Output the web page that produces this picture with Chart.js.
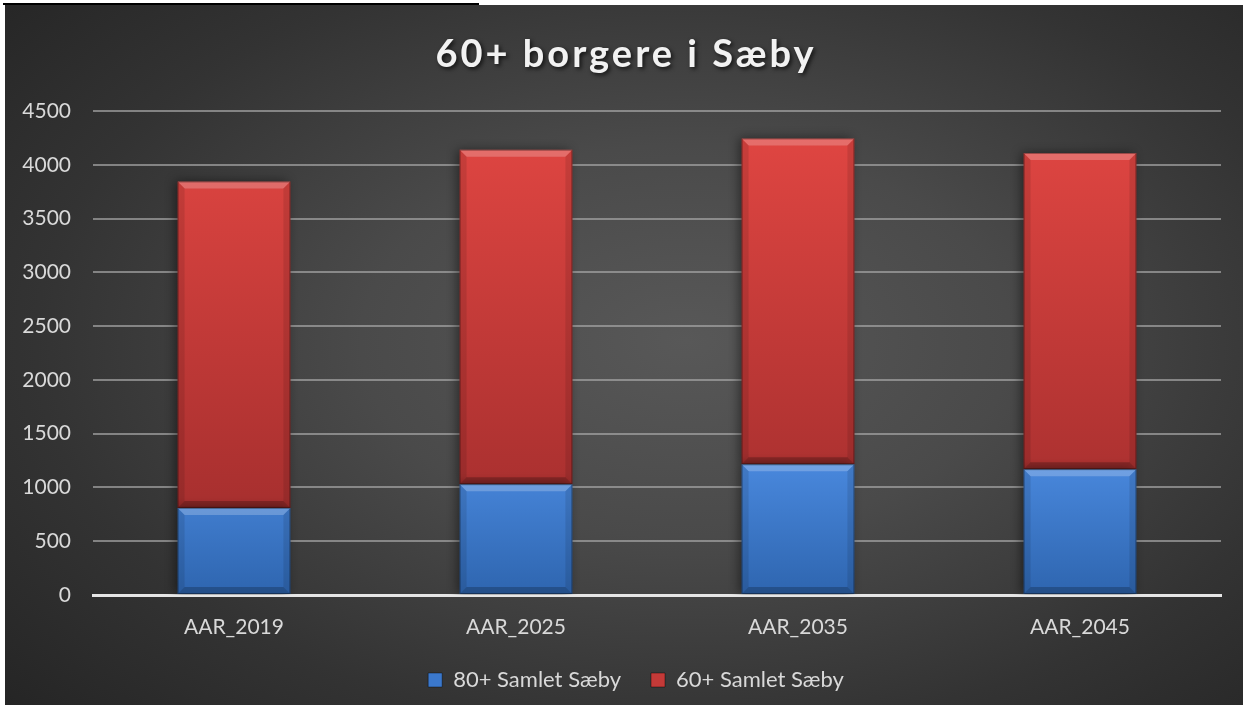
<!DOCTYPE html>
<html>
<head>
<meta charset="utf-8">
<script src="https://cdn.jsdelivr.net/npm/chart.js@4/dist/chart.umd.min.js"></script>
<style>
  body { margin: 0; background: #fff; width: 1249px; height: 713px; overflow: hidden; position: relative; }
  #topline { position: absolute; left: 3px; top: 3px; width: 476px; height: 2px; background: #000; }
  #wrap {
    position: absolute; left: 5px; top: 5px; width: 1238px; height: 700px;
    background: radial-gradient(ellipse 75% 80% at 55% 48%, #585858 0%, #4a4a4a 35%, #333 70%, #242424 100%);
  }
</style>
</head>
<body>
<div id="topline"></div>
<div id="wrap"><canvas id="c" width="1238" height="700"></canvas></div>
<script>
// data
const categories = ['AAR_2019', 'AAR_2025', 'AAR_2035', 'AAR_2045'];
const seriesNames = ['80+ Samlet Sæby', '60+ Samlet Sæby'];
const over80 = [810, 1030, 1215, 1170];
const over60 = [3035, 3110, 3030, 2940];
const yTicks = [0, 500, 1000, 1500, 2000, 2500, 3000, 3500, 4000, 4500];
const titleText = '60+ borgere i Sæby';

const legendColors = ['#3b78cc', '#c43a38'];
const textColor = '#d9d9d9';
const font = 'Lato, "Open Sans", sans-serif';

// vertical gradient over chart area
function vgrad(stops, fallback) {
  return ctx => {
    const chart = ctx.chart;
    const a = chart.chartArea;
    if (!a) return fallback;
    const g = chart.ctx.createLinearGradient(0, a.top, 0, a.bottom);
    stops.forEach(s => g.addColorStop(s[0], s[1]));
    return g;
  };
}

const titlePlugin = {
  id: 'fancyTitle',
  afterLayout(chart) {
    // legend sits a bit right of centre in the original
    chart.legend.left += 23;
    chart.legend.right += 23;
  },
  afterDraw(chart) {
    const ctx = chart.ctx;
    ctx.save();
    ctx.font = 'bold 38px ' + font;
    ctx.letterSpacing = '3px';
    ctx.textAlign = 'center';
    ctx.textBaseline = 'middle';
    ctx.shadowColor = 'rgba(0,0,0,0.7)';
    ctx.shadowBlur = 4;
    ctx.shadowOffsetX = 2;
    ctx.shadowOffsetY = 2;
    ctx.fillStyle = '#f2f2f2';
    ctx.fillText(titleText, chart.width / 2 + 2, 50);
    ctx.restore();
  }
};

// drop shadow behind the bars and a little bevel on each bar
const barLook = {
  id: 'barLook',
  beforeDatasetsDraw(chart) {
    const ctx = chart.ctx;
    ctx.save();
    ctx.shadowColor = 'rgba(0,0,0,0.45)';
    ctx.shadowBlur = 10;
    ctx.shadowOffsetX = -3;
    ctx.shadowOffsetY = 0;
  },
  afterDatasetsDraw(chart) {
    const ctx = chart.ctx;
    ctx.restore();
    ctx.save();
    chart.data.datasets.forEach((ds, i) => {
      chart.getDatasetMeta(i).data.forEach(bar => {
        const p = bar.getProps(['x', 'y', 'base', 'width'], true);
        const l = p.x - p.width / 2, r = p.x + p.width / 2;
        const t = Math.min(p.y, p.base), b = Math.max(p.y, p.base);
        const e = 7;
        ctx.fillStyle = 'rgba(255,255,255,0.22)';
        ctx.beginPath();
        ctx.moveTo(l, t); ctx.lineTo(r, t); ctx.lineTo(r - e, t + e); ctx.lineTo(l + e, t + e);
        ctx.closePath(); ctx.fill();
        ctx.fillStyle = 'rgba(0,0,0,0.22)';
        ctx.beginPath();
        ctx.moveTo(l, b); ctx.lineTo(r, b); ctx.lineTo(r - e, b - e); ctx.lineTo(l + e, b - e);
        ctx.closePath(); ctx.fill();
        ctx.fillStyle = 'rgba(0,0,0,0.1)';
        ctx.beginPath();
        ctx.moveTo(l, t); ctx.lineTo(l + e, t + e); ctx.lineTo(l + e, b - e); ctx.lineTo(l, b);
        ctx.closePath(); ctx.fill();
        ctx.beginPath();
        ctx.moveTo(r, t); ctx.lineTo(r - e, t + e); ctx.lineTo(r - e, b - e); ctx.lineTo(r, b);
        ctx.closePath(); ctx.fill();
        ctx.strokeStyle = 'rgba(0,0,0,0.35)';
        ctx.lineWidth = 1;
        ctx.strokeRect(l + 0.5, t + 0.5, p.width - 1, b - t - 1);
      });
    });
    ctx.restore();
  }
};

new Chart(document.getElementById('c'), {
  type: 'bar',
  data: {
    labels: categories,
    datasets: [
      {
        label: seriesNames[0],
        data: over80,
        backgroundColor: vgrad([[0, '#4b8ce2'], [0.72, '#4a89de'], [1, '#2e65af']], legendColors[0]),
        borderWidth: 0
      },
      {
        label: seriesNames[1],
        data: over60,
        backgroundColor: vgrad([[0, '#e34743'], [1, '#9a2a2a']], legendColors[1]),
        borderWidth: 0
      }
    ]
  },
  options: {
    responsive: false,
    animation: false,
    devicePixelRatio: 1,
    datasets: { bar: { barPercentage: 0.4, categoryPercentage: 1.0 } },
    layout: { padding: { top: 106, right: 22, left: 0, bottom: 4 } },
    plugins: {
      title: { display: false },
      tooltip: { enabled: false },
      legend: {
        position: 'bottom',
        labels: {
          color: textColor,
          font: { family: font, size: 22 },
          boxWidth: 14,
          boxHeight: 14,
          padding: 30,
          generateLabels(chart) {
            const items = Chart.defaults.plugins.legend.labels.generateLabels(chart);
            items.forEach((it, i) => { it.fillStyle = legendColors[i]; it.strokeStyle = 'rgba(0,0,0,0.4)'; it.lineWidth = 1; });
            return items;
          }
        }
      }
    },
    scales: {
      x: {
        stacked: true,
        grid: { display: false, drawTicks: false },
        border: { display: true, color: '#e6e6e6', width: 3, dash: [2, 2] },
        ticks: { color: textColor, font: { family: font, size: 21 }, padding: 20 },
        afterFit(scale) { scale.height = 44; }
      },
      y: {
        stacked: true,
        min: yTicks[0],
        max: yTicks[yTicks.length - 1],
        afterBuildTicks(scale) { scale.ticks = yTicks.map(v => ({ value: v })); },
        afterFit(scale) { scale.width = 88; },
        grid: { color: 'rgba(165,165,165,0.7)', lineWidth: 2, drawTicks: false },
        border: { display: false },
        ticks: { color: textColor, font: { family: font, size: 21 }, padding: 22, callback: v => String(v) }
      }
    }
  },
  plugins: [titlePlugin, barLook]
});
</script>
</body>
</html>
